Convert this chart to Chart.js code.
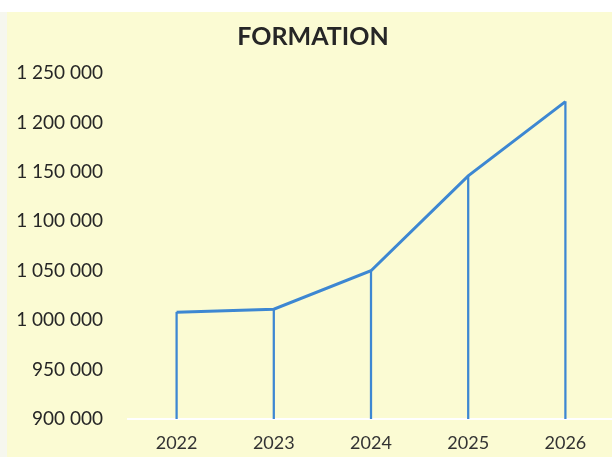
<!DOCTYPE html>
<html>
<head>
<meta charset="utf-8">
<script src="https://cdn.jsdelivr.net/npm/chart.js@4"></script>
<style>
  html, body { margin: 0; padding: 0; background: #ffffff; width: 612px; height: 457px; overflow: hidden; }
  #wrap { position: absolute; left: 0; top: 12px; width: 630px; height: 445px; background: #fbfbd3; }
  #left { position: absolute; left: 0; top: 12px; width: 7px; height: 445px; background: #f6f7ee; }
</style>
</head>
<body>
<div id="wrap"><canvas id="c" width="630" height="445"></canvas></div>
<div id="left"></div>
<script>
const title = "FORMATION";
const categories = ["2022", "2023", "2024", "2025", "2026"];
const values = [1008000, 1011000, 1050000, 1146000, 1221000];
const yMin = 900000;
const yMax = 1250000;
const yStep = 50000;

function fmt(v) {
  return String(v).replace(/\B(?=(\d{3})+(?!\d))/g, " ");
}

const blue = "#3d87d2";

new Chart(document.getElementById("c"), {
  data: {
    labels: categories,
    datasets: [
      {
        type: "line",
        data: values,
        borderColor: blue,
        borderWidth: 3,
        pointRadius: 0,
        tension: 0,
        order: 0
      },
      {
        type: "bar",
        data: values,
        backgroundColor: blue,
        borderWidth: 0,
        barThickness: 1.6,
        base: yMin,
        order: 1
      }
    ]
  },
  options: {
    responsive: false,
    animation: false,
    devicePixelRatio: 1,
    layout: { padding: { left: 12, right: 16, top: 0, bottom: 0 } },
    plugins: {
      legend: { display: false },
      tooltip: { enabled: false },
      title: {
        display: true,
        text: title,
        color: "#262626",
        font: { family: "Lato", size: 25, weight: "bold" },
        padding: { top: 10, bottom: 21 }
      }
    },
    scales: {
      x: {
        offset: true,
        grid: { display: false, drawOnChartArea: false },
        border: { display: true, color: "#ffffff", width: 2 },
        ticks: {
          color: "#333333",
          font: { family: "Lato", size: 18 },
          padding: 5,
          maxRotation: 0
        },
        afterFit: (s) => { s.height = 38; }
      },
      y: {
        min: yMin,
        max: yMax,
        grid: { display: false },
        border: { display: false },
        ticks: {
          stepSize: yStep,
          color: "#262626",
          font: { family: "Lato", size: 19 },
          padding: 17,
          callback: (v) => fmt(v)
        },
        afterFit: (s) => { s.width = 116; }
      }
    }
  }
});
</script>
</body>
</html>
